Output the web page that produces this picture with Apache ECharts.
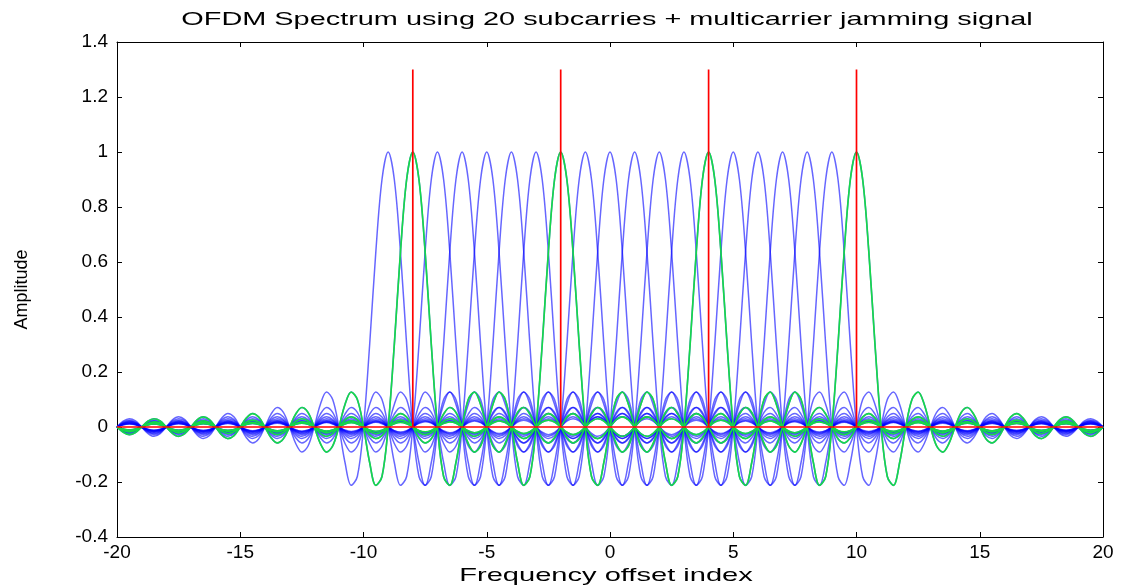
<!DOCTYPE html>
<html>
<head>
<meta charset="utf-8">
<script src="https://cdn.jsdelivr.net/npm/echarts@6/dist/echarts.min.js"></script>
<style>
html,body{margin:0;padding:0;background:#ffffff;}
#chart{width:1127px;height:587px;}
</style>
</head>
<body>
<div id="chart"></div>
<script>
// ---------- data ----------
const titleText = 'OFDM Spectrum using 20 subcarries + multicarrier jamming signal';
const xAxisName = 'Frequency offset index';
const yAxisName = 'Amplitude';
const xTicks = [-20, -15, -10, -5, 0, 5, 10, 15, 20];
const yTicks = [-0.4, -0.2, 0, 0.2, 0.4, 0.6, 0.8, 1, 1.2, 1.4];

// subcarrier centre positions (frequency offset index)
const subcarrierCenters = [-9, -8, -7, -6, -5, -4, -3, -2, -1, 0, 1, 2, 3, 4, 5, 6, 7, 8, 9, 10];
// subcarriers hit by the multicarrier jammer (green curves, red stems)
const jammedCarriers = [-8, -2, 4, 10];
const jamAmplitude = 1.3;

// sampled spectrum of one subcarrier, offsets 0, 0.25, 0.5 ... 30 from its centre
const sampleStep = 0.25;
const pulseShape = [
  1.000, 0.900, 0.637, 0.300,
  0, -0.180, -0.212, -0.129,
  0, 0.100, 0.127, 0.082,
  0, -0.069, -0.091, -0.060,
  0, 0.053, 0.071, 0.047,
  0, -0.043, -0.058, -0.039,
  0, 0.036, 0.049, 0.033,
  0, -0.031, -0.042, -0.029,
  0, 0.027, 0.037, 0.026,
  0, -0.024, -0.034, -0.023,
  0, 0.022, 0.030, 0.021,
  0, -0.020, -0.028, -0.019,
  0, 0.018, 0.025, 0.018,
  0, -0.017, -0.024, -0.016,
  0, 0.016, 0.022, 0.015,
  0, -0.015, -0.021, -0.014,
  0, 0.014, 0.019, 0.013,
  0, -0.013, -0.018, -0.013,
  0, 0.012, 0.017, 0.012,
  0, -0.012, -0.016, -0.011,
  0, 0.011, 0.016, 0.011,
  0, -0.011, -0.015, -0.010,
  0, 0.010, 0.014, 0.010,
  0, -0.010, -0.014, -0.009,
  0, 0.009, 0.013, 0.009,
  0, -0.009, -0.012, -0.009,
  0, 0.009, 0.012, 0.008,
  0, -0.008, -0.012, -0.008,
  0, 0.008, 0.011, 0.008,
  0, -0.008, -0.011, -0.008,
  0
];

// ---------- build series ----------
const xMin = xTicks[0], xMax = xTicks[xTicks.length - 1];
const nSamples = Math.round((xMax - xMin) / sampleStep);
const xs = [];
for (let i = 0; i <= nSamples; i++) xs.push(xMin + i * sampleStep);

function carrierData(c) {
  return xs.map(x => {
    const k = Math.round(Math.abs(x - c) / sampleStep);
    return [x, k < pulseShape.length ? pulseShape[k] : 0];
  });
}

const series = [];
subcarrierCenters.forEach(c => {
  series.push({
    type: 'line', data: carrierData(c), showSymbol: false, symbol: 'none',
    smooth: 0.35, silent: true, animation: false,
    lineStyle: { color: 'rgba(0,0,255,0.6)', width: 1.5 }, z: 2
  });
});
jammedCarriers.forEach(c => {
  series.push({
    type: 'line', data: carrierData(c), showSymbol: false, symbol: 'none',
    smooth: 0.35, silent: true, animation: false,
    lineStyle: { color: '#16d94a', width: 1.7 }, z: 3
  });
});
const jamData = [[xMin, 0]];
jammedCarriers.forEach(c => { jamData.push([c, 0], [c, jamAmplitude], [c, 0]); });
jamData.push([xMax, 0]);
series.push({
  type: 'line', data: jamData, showSymbol: false, symbol: 'none', silent: true,
  animation: false, lineStyle: { color: '#ff0000', width: 1.7 }, z: 4
});

// ---------- chart ----------
const font = '"Liberation Sans", Arial, sans-serif';
const axisCommon = {
  axisLine: { show: true, onZero: false, lineStyle: { color: '#000', width: 1 } },
  axisTick: { show: true, inside: true, length: 5, lineStyle: { color: '#000', width: 1 } },
  splitLine: { show: false }
};
const chart = echarts.init(document.getElementById('chart'), null, { renderer: 'canvas' });
chart.setOption({
  backgroundColor: '#ffffff',
  animation: false,
  grid: { left: 117, right: 24, top: 42, bottom: 50, containLabel: false },
  xAxis: [
    Object.assign({
      type: 'value', position: 'bottom', min: xMin, max: xMax, interval: xTicks[1] - xTicks[0],
      axisLabel: { show: true, color: '#000', fontSize: 19, fontFamily: font, margin: 6 }
    }, axisCommon),
    Object.assign({
      type: 'value', position: 'top', min: xMin, max: xMax, interval: xTicks[1] - xTicks[0],
      axisLabel: { show: false }
    }, axisCommon)
  ],
  yAxis: [
    Object.assign({
      type: 'value', position: 'left', min: yTicks[0], max: yTicks[yTicks.length - 1],
      interval: 0.2,
      name: yAxisName, nameLocation: 'middle', nameRotate: 90, nameGap: 86,
      nameTextStyle: { color: '#000', fontSize: 18, fontFamily: font },
      axisLabel: { show: true, color: '#000', fontSize: 19, fontFamily: font, margin: 9 }
    }, axisCommon),
    Object.assign({
      type: 'value', position: 'right', min: yTicks[0], max: yTicks[yTicks.length - 1],
      interval: 0.2, axisLabel: { show: false }
    }, axisCommon)
  ],
  graphic: [
    {
      type: 'text', x: 607, y: 20, scaleX: 1.52, silent: true,
      style: {
        text: titleText, font: '19px "Liberation Sans", Arial, sans-serif', fill: '#000',
        align: 'center', verticalAlign: 'middle', textAlign: 'center', textVerticalAlign: 'middle'
      }
    },
    {
      type: 'text', x: 606, y: 576, scaleX: 1.53, silent: true,
      style: {
        text: xAxisName, font: '19px "Liberation Sans", Arial, sans-serif', fill: '#000',
        align: 'center', verticalAlign: 'middle', textAlign: 'center', textVerticalAlign: 'middle'
      }
    }
  ],
  series: series
});
</script>
</body>
</html>
